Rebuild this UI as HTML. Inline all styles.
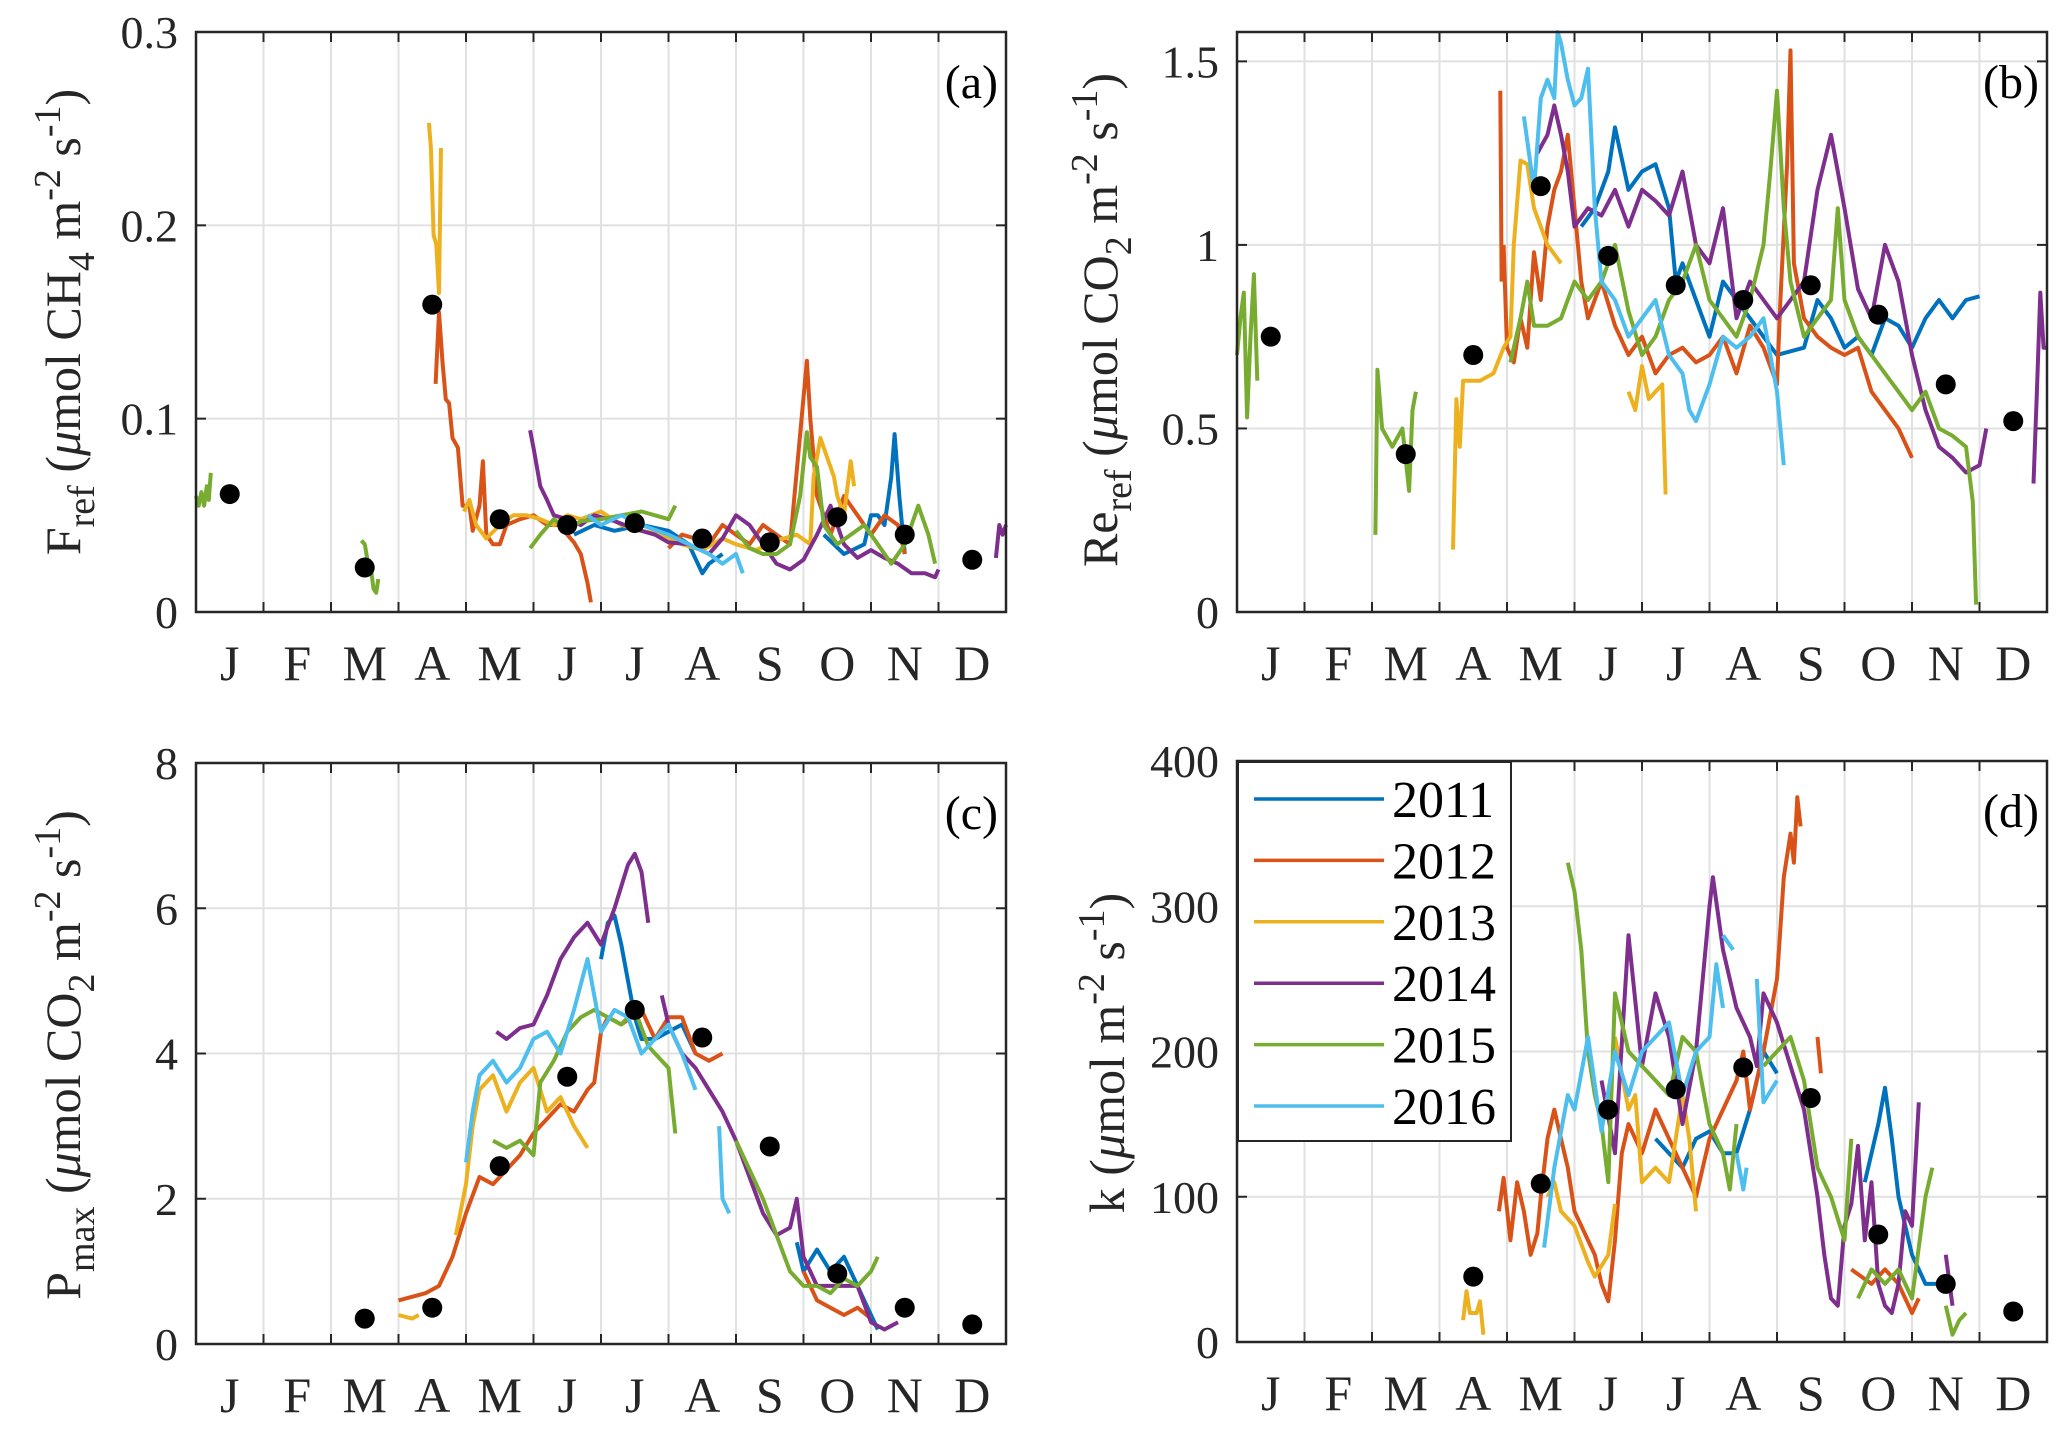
<!DOCTYPE html>
<html><head><meta charset="utf-8"><style>
html,body{margin:0;padding:0;background:#fff;}
svg{display:block;font-family:"Liberation Serif",serif;}
</style></head><body>
<svg id="fig" width="2067" height="1432" viewBox="0 0 2067 1432" xmlns="http://www.w3.org/2000/svg" font-family="Liberation Serif, serif"></svg>
<script>
const monthLabels = ["J","F","M","A","M","J","J","A","S","O","N","D"];
const years = ["2011","2012","2013","2014","2015","2016"];
const colors = ["#0072BD","#D95319","#EDB120","#7E2F8E","#77AC30","#4DBEEE"];

const aDots = [[0,0.061],[2,0.023],[3,0.159],[4,0.048],[5,0.045],[6,0.046],[7,0.038],[8,0.036],[9,0.049],[10,0.040],[11,0.027]];
const bDots = [[0,0.75],[2,0.43],[3,0.70],[4,1.16],[5,0.97],[6,0.89],[7,0.85],[8,0.89],[9,0.81],[10,0.62],[11,0.52]];
const cDots = [[2,0.35],[3,0.5],[4,2.45],[5,3.68],[6,4.6],[7,4.22],[8,2.72],[9,0.97],[10,0.5],[11,0.27]];
const dDots = [[3,45],[4,109],[5,160],[6,174],[7,189],[8,168],[9,74],[10,40],[11,21]];

const aSeries = {
 "2011":[[[5.6,0.04],[5.9,0.045],[6.2,0.042],[6.6,0.045],[7.0,0.042],[7.3,0.035],[7.5,0.02],[7.6,0.025],[7.8,0.03]],
         [[9.3,0.04],[9.6,0.03],[9.9,0.035],[10.0,0.05],[10.1,0.05],[10.2,0.045],[10.3,0.07],[10.35,0.092],[10.42,0.06],[10.5,0.03]]],
 "2012":[[[3.55,0.118],[3.6,0.155],[3.65,0.13],[3.7,0.11],[3.75,0.108],[3.8,0.09],[3.88,0.085],[3.95,0.055],[4.05,0.055],[4.1,0.042],[4.2,0.055],[4.25,0.078],[4.3,0.04],[4.4,0.035],[4.5,0.035],[4.6,0.045],[4.8,0.048],[5.0,0.05],[5.2,0.045],[5.4,0.045],[5.5,0.04],[5.6,0.036],[5.7,0.03],[5.8,0.015],[5.85,0.005]],
         [[7.0,0.033],[7.2,0.04],[7.4,0.038],[7.6,0.035],[7.8,0.045],[8.0,0.04],[8.2,0.035],[8.4,0.045],[8.6,0.04],[8.8,0.035],[9.05,0.13],[9.1,0.1],[9.2,0.06],[9.4,0.04],[9.6,0.06],[9.8,0.05],[10.0,0.04],[10.2,0.05],[10.4,0.045],[10.5,0.03]]],
 "2013":[[[3.45,0.253],[3.48,0.24],[3.52,0.195],[3.56,0.19],[3.6,0.165],[3.63,0.24]],
         [[3.97,0.052],[4.05,0.058],[4.15,0.045],[4.3,0.038],[4.5,0.045],[4.7,0.05],[4.9,0.05],[5.1,0.048],[5.3,0.045],[5.5,0.05],[5.7,0.048],[6.0,0.052],[6.3,0.045],[6.6,0.042],[6.9,0.04],[7.2,0.035],[7.5,0.032],[7.8,0.038],[8.0,0.035],[8.3,0.032],[8.6,0.037],[8.9,0.04],[9.1,0.035],[9.15,0.07],[9.25,0.09],[9.35,0.08],[9.45,0.07],[9.5,0.06],[9.6,0.05],[9.7,0.078],[9.75,0.065]]],
 "2014":[[[4.95,0.094],[5.0,0.085],[5.1,0.065],[5.2,0.058],[5.3,0.05],[5.5,0.048],[5.7,0.045],[5.9,0.05],[6.2,0.047],[6.5,0.043],[6.8,0.04],[7.0,0.036],[7.3,0.035],[7.6,0.03],[7.8,0.038],[8.0,0.05],[8.2,0.045],[8.4,0.035],[8.6,0.025],[8.8,0.022],[9.0,0.027],[9.2,0.04],[9.4,0.055],[9.6,0.035],[9.8,0.028],[10.0,0.032],[10.2,0.028],[10.4,0.025],[10.6,0.02],[10.8,0.02],[10.95,0.018],[11.0,0.022]],
         [[11.85,0.028],[11.9,0.045],[11.95,0.04],[12.0,0.045]]],
 "2015":[[[0,0.06],[0.04,0.055],[0.08,0.062],[0.12,0.055],[0.16,0.065],[0.19,0.058],[0.22,0.072]],
         [[2.45,0.037],[2.5,0.035],[2.55,0.025],[2.6,0.02],[2.63,0.012],[2.67,0.01],[2.7,0.017]],
         [[4.95,0.033],[5.1,0.04],[5.3,0.048],[5.5,0.042],[5.7,0.047],[6.0,0.048],[6.3,0.05],[6.6,0.052],[6.8,0.05],[7.0,0.048],[7.1,0.055]],
         [[8.0,0.042],[8.2,0.033],[8.4,0.03],[8.6,0.03],[8.8,0.035],[8.95,0.06],[9.05,0.093],[9.1,0.08],[9.2,0.075],[9.3,0.045],[9.5,0.035],[9.7,0.04],[9.9,0.045],[10.1,0.035],[10.3,0.025],[10.5,0.035],[10.7,0.055],[10.85,0.04],[10.95,0.025]]],
 "2016":[[[5.8,0.05],[6.0,0.045],[6.3,0.05],[6.6,0.045],[7.0,0.04],[7.3,0.035],[7.6,0.03],[7.8,0.025],[8.0,0.03],[8.1,0.02]]]
};
const bSeries = {
 "2011":[[[5.1,1.05],[5.3,1.1],[5.5,1.2],[5.6,1.32],[5.8,1.15],[6.0,1.2],[6.2,1.22],[6.4,1.1],[6.5,0.9],[6.6,0.95],[6.8,0.85],[7.0,0.75],[7.2,0.9],[7.4,0.85],[7.6,0.8],[7.8,0.75],[8.0,0.7],[8.4,0.72],[8.6,0.85],[8.8,0.8],[9.0,0.72],[9.2,0.75],[9.4,0.7],[9.6,0.8],[9.8,0.78],[10.0,0.72],[10.2,0.8],[10.4,0.85],[10.6,0.8],[10.8,0.85],[11.0,0.86]]],
 "2012":[[[3.9,1.42],[3.92,0.9]],[[3.95,1.0],[4.0,0.72],[4.1,0.68],[4.2,0.8],[4.3,0.72],[4.4,0.98],[4.5,0.85],[4.6,1.05],[4.7,1.15],[4.8,1.2],[4.9,1.3],[5.0,1.1],[5.1,0.9],[5.2,0.8],[5.4,0.9],[5.6,0.78],[5.8,0.7],[6.0,0.75],[6.2,0.65],[6.4,0.7],[6.6,0.72],[6.8,0.68],[7.0,0.7],[7.2,0.75],[7.4,0.65],[7.6,0.78],[7.8,0.72],[8.0,0.62],[8.05,0.85],[8.15,1.22],[8.2,1.53],[8.25,0.95],[8.4,0.8],[8.6,0.75],[8.8,0.72],[9.0,0.7],[9.2,0.72],[9.4,0.6],[9.6,0.55],[9.8,0.5],[10.0,0.42]]],
 "2013":[[[3.2,0.17],[3.25,0.58],[3.3,0.45],[3.35,0.63],[3.6,0.63],[3.8,0.65],[3.95,0.72],[4.05,0.75],[4.1,1.0],[4.2,1.23],[4.3,1.22],[4.4,1.1],[4.6,1.0],[4.8,0.95]],
         [[5.8,0.6],[5.9,0.55],[6.0,0.67],[6.1,0.58],[6.2,0.6],[6.3,0.62],[6.35,0.32]]],
 "2014":[[[4.45,1.25],[4.6,1.3],[4.7,1.38],[4.8,1.3],[4.9,1.2],[5.0,1.05],[5.2,1.1],[5.4,1.08],[5.6,1.15],[5.8,1.05],[6.0,1.15],[6.2,1.12],[6.4,1.08],[6.6,1.2],[6.8,1.0],[7.0,0.95],[7.2,1.1],[7.4,0.8],[7.6,0.9],[7.8,0.85],[8.0,0.8],[8.2,0.85],[8.4,0.9],[8.6,1.15],[8.8,1.3],[8.9,1.2],[9.0,1.1],[9.2,0.88],[9.4,0.8],[9.6,1.0],[9.8,0.9],[10.0,0.7],[10.2,0.55],[10.4,0.45],[10.6,0.42],[10.8,0.38],[11.0,0.4],[11.1,0.5]],
         [[11.8,0.35],[11.85,0.6],[11.9,0.87],[11.95,0.72],[12.0,0.72]]],
 "2015":[[[0,0.7],[0.05,0.8],[0.1,0.87],[0.15,0.53],[0.2,0.75],[0.25,0.92],[0.3,0.63]],
         [[2.05,0.21],[2.08,0.66],[2.15,0.5],[2.3,0.45],[2.45,0.5],[2.55,0.33],[2.6,0.55],[2.65,0.6]],
         [[4.05,0.68],[4.2,0.8],[4.3,0.9],[4.4,0.78],[4.6,0.78],[4.8,0.8],[5.0,0.9],[5.2,0.85],[5.4,0.9],[5.6,1.0],[5.8,0.82],[6.0,0.7],[6.2,0.75],[6.4,0.85],[6.6,0.9],[6.8,1.0],[7.0,0.85],[7.2,0.8],[7.4,0.75],[7.6,0.85],[7.8,1.0],[7.9,1.2],[8.0,1.42],[8.1,1.1],[8.2,0.9],[8.4,0.75],[8.6,0.8],[8.8,0.85],[8.9,1.1],[9.0,0.85],[9.2,0.75],[9.4,0.7],[9.6,0.65],[9.8,0.6],[10.0,0.55],[10.2,0.6],[10.4,0.5],[10.6,0.48],[10.8,0.45],[10.9,0.3],[10.95,0.02]]],
 "2016":[[[4.25,1.35],[4.4,1.15],[4.5,1.4],[4.6,1.45],[4.7,1.4],[4.75,1.58],[4.8,1.55],[4.9,1.45],[5.0,1.38],[5.1,1.4],[5.2,1.48],[5.3,1.1],[5.4,0.9],[5.6,0.85],[5.8,0.75],[6.0,0.8],[6.2,0.85],[6.4,0.7],[6.6,0.65],[6.7,0.55],[6.8,0.52],[7.0,0.62],[7.2,0.75],[7.4,0.72],[7.6,0.75],[7.8,0.8],[8.0,0.6],[8.1,0.4]]]
};
const cSeries = {
 "2011":[[[6.0,5.3],[6.1,5.8],[6.2,5.9],[6.3,5.5],[6.4,5.0],[6.5,4.5],[6.6,4.2],[6.8,4.2],[7.0,4.3],[7.2,4.4],[7.4,4.0]],
         [[8.9,1.4],[9.0,1.0],[9.2,1.3],[9.4,1.0],[9.6,1.2],[9.8,0.8],[10.0,0.4],[10.1,0.2]]],
 "2012":[[[3.0,0.6],[3.2,0.65],[3.4,0.7],[3.6,0.8],[3.8,1.2],[4.0,1.8],[4.2,2.3],[4.4,2.2],[4.6,2.4],[4.8,2.6],[5.0,2.9],[5.2,3.1],[5.4,3.3],[5.6,3.2],[5.8,3.5],[5.9,3.6],[6.0,4.3],[6.1,4.5],[6.3,4.4],[6.6,4.6],[6.8,4.2],[7.0,4.5],[7.2,4.5],[7.4,4.0],[7.6,3.9],[7.8,4.0]],
         [[9.0,1.0],[9.2,0.6],[9.4,0.5],[9.6,0.4],[9.8,0.5],[10.0,0.35]]],
 "2013":[[[3.0,0.4],[3.2,0.35],[3.3,0.4]],
         [[3.85,1.5],[4.0,2.2],[4.1,3.0],[4.2,3.5],[4.4,3.7],[4.6,3.2],[4.8,3.6],[5.0,3.8],[5.2,3.2],[5.4,3.4],[5.6,3.0],[5.8,2.7]]],
 "2014":[[[4.45,4.3],[4.6,4.2],[4.8,4.35],[5.0,4.4],[5.2,4.8],[5.4,5.3],[5.6,5.6],[5.8,5.8],[6.0,5.5],[6.2,6.0],[6.4,6.6],[6.5,6.75],[6.6,6.5],[6.7,5.8]],
         [[6.9,4.8],[7.0,4.4],[7.2,4.0],[7.4,3.8],[7.6,3.5],[7.8,3.2],[8.0,2.8],[8.2,2.3],[8.4,1.8],[8.6,1.5],[8.8,1.6],[8.9,2.0],[9.0,1.2],[9.2,0.8],[9.4,0.8],[9.6,0.8],[9.8,0.8],[10.0,0.3],[10.2,0.2],[10.4,0.3]]],
 "2015":[[[4.4,2.8],[4.6,2.7],[4.8,2.8],[5.0,2.6],[5.1,3.6],[5.3,3.9],[5.5,4.3],[5.7,4.5],[5.9,4.6],[6.1,4.5],[6.3,4.4],[6.5,4.6],[6.7,4.1],[6.8,4.0],[7.0,3.8],[7.1,2.9]],
         [[8.0,2.8],[8.2,2.4],[8.4,2.0],[8.6,1.5],[8.8,1.0],[9.0,0.8],[9.2,0.8],[9.4,0.7],[9.6,0.9],[9.8,0.8],[10.0,1.0],[10.1,1.2]]],
 "2016":[[[4.0,2.5],[4.1,3.2],[4.2,3.7],[4.4,3.9],[4.6,3.6],[4.8,3.8],[5.0,4.2],[5.2,4.3],[5.4,4.0],[5.6,4.6],[5.8,5.3],[6.0,4.3],[6.2,4.6],[6.4,4.5],[6.6,4.0],[6.8,4.2],[7.0,4.4],[7.2,4.0],[7.4,3.5]],
         [[7.75,3.0],[7.8,2.0],[7.9,1.8]]]
};
const dSeries = {
 "2011":[[[6.2,140],[6.4,130],[6.6,120],[6.8,140],[7.0,145],[7.2,130],[7.4,130],[7.6,160],[7.8,200],[8.0,185]],
         [[9.3,110],[9.5,150],[9.6,175],[9.7,140],[9.8,100],[10.0,60],[10.2,40],[10.4,40]]],
 "2012":[[[3.88,90],[3.95,113],[4.05,70],[4.15,110],[4.25,90],[4.35,60],[4.45,75],[4.5,100],[4.6,140],[4.7,160],[4.8,140],[4.9,120],[5.0,90],[5.1,80],[5.2,70],[5.3,60],[5.4,40],[5.5,28],[5.6,70],[5.7,130],[5.8,150],[6.0,130],[6.2,160],[6.4,140],[6.6,120],[6.8,100],[7.0,140],[7.2,160],[7.4,180],[7.5,200],[7.6,160],[7.8,200],[8.0,250],[8.1,320],[8.2,350],[8.25,330],[8.3,375],[8.35,355]],
         [[8.6,210],[8.65,185]],
         [[9.1,50],[9.4,40],[9.6,50],[9.8,40],[10.0,20],[10.1,30]]],
 "2013":[[[3.35,15],[3.4,35],[3.45,20],[3.55,20],[3.6,28],[3.65,5]],
         [[4.6,100],[4.7,110],[4.8,90],[5.0,80],[5.2,55],[5.3,45],[5.5,60],[5.6,95]],
         [[5.6,210],[5.8,160],[5.9,170],[6.0,110],[6.2,120],[6.4,110],[6.6,170],[6.7,140],[6.8,90]]],
 "2014":[[[5.4,180],[5.6,130],[5.8,280],[6.0,190],[6.2,240],[6.4,210],[6.6,150],[6.8,200],[7.0,300],[7.05,320],[7.2,270],[7.4,230],[7.6,210],[7.7,190],[7.8,240],[8.0,220],[8.2,190],[8.4,160],[8.6,100],[8.7,60],[8.8,30],[8.9,25],[9.0,80],[9.1,95],[9.2,135],[9.3,70],[9.4,110],[9.5,40],[9.6,25],[9.7,20],[9.8,40],[9.9,90],[10.0,80],[10.1,165]],
         [[10.5,60],[10.6,25]]],
 "2015":[[[4.9,330],[5.0,310],[5.1,270],[5.2,200],[5.3,170],[5.4,150],[5.5,110],[5.6,240],[5.8,200],[6.0,190],[6.2,180],[6.4,170],[6.6,210],[6.8,200],[7.0,150],[7.2,130],[7.3,105],[7.4,150]],
         [[7.8,190],[8.0,200],[8.2,210],[8.4,180],[8.6,120],[8.8,100],[9.0,70],[9.1,140]],
         [[9.2,30],[9.4,50],[9.6,40],[9.8,50],[10.0,30],[10.2,100],[10.3,120]],
         [[10.5,25],[10.6,5],[10.7,15],[10.8,20]]],
 "2016":[[[4.55,65],[4.7,120],[4.9,170],[5.0,160],[5.2,210],[5.4,145],[5.6,200],[5.8,170],[6.0,200],[6.2,210],[6.4,220],[6.6,170],[6.8,200],[7.0,210],[7.1,260],[7.2,230]],
         [[7.2,280],[7.35,270]],[[7.4,130],[7.5,105],[7.55,120]],[[7.7,250],[7.8,165],[8.0,180]]]
};

const aTicks = [0,0.1,0.2,0.3], aTickLabels = ["0","0.1","0.2","0.3"];
const bTicks = [0,0.5,1,1.5], bTickLabels = ["0","0.5","1","1.5"];
const cTicks = [0,2,4,6,8], cTickLabels = ["0","2","4","6","8"];
const dTicks = [0,100,200,300,400], dTickLabels = ["0","100","200","300","400"];

const NS = "http://www.w3.org/2000/svg";
const svg = document.getElementById("fig");
function mk(tag, attrs, parent){
  const e = document.createElementNS(NS, tag);
  for (const k in attrs) e.setAttribute(k, attrs[k]);
  (parent||svg).appendChild(e);
  return e;
}

const panels = [
 {id:"a", x0:196, x1:1006, y0:32, y1:612, ymax:0.3, ticks:aTicks, tl:aTickLabels, dots:aDots, series:aSeries, lx:63, ly:322,
  label:[["F",0],["ref",1],[" (",0],["μ",2],["mol CH",0],["4",1],[" m",0],["-2",-1],[" s",0],["-1",-1],[")",0]]},
 {id:"b", x0:1237, x1:2047, y0:32, y1:612, ymax:1.58, ticks:bTicks, tl:bTickLabels, dots:bDots, series:bSeries, lx:1100, ly:320,
  label:[["Re",0],["ref",1],[" (",0],["μ",2],["mol CO",0],["2",1],[" m",0],["-2",-1],[" s",0],["-1",-1],[")",0]]},
 {id:"c", x0:196, x1:1006, y0:763, y1:1344, ymax:8, ticks:cTicks, tl:cTickLabels, dots:cDots, series:cSeries, lx:63, ly:1055,
  label:[["P",0],["max",1],[" (",0],["μ",2],["mol CO",0],["2",1],[" m",0],["-2",-1],[" s",0],["-1",-1],[")",0]]},
 {id:"d", x0:1237, x1:2047, y0:761, y1:1342, ymax:400, ticks:dTicks, tl:dTickLabels, dots:dDots, series:dSeries, lx:1107, ly:1053,
  label:[["k (",0],["μ",2],["mol m",0],["-2",-1],[" s",0],["-1",-1],[")",0]]}
];

panels.forEach(p => {
  const g = mk("g", {});
  
  
  const W = p.x1 - p.x0, H = p.y1 - p.y0;
  const xs = m => p.x0 + m / 12 * W;
  const ys = v => p.y1 - v / p.ymax * H;
  for (let m = 1; m < 12; m++) {
    const l = mk("line", {x1:xs(m), x2:xs(m), y1:p.y0, y2:p.y1, stroke:"#e1e1e1", "stroke-width":2}, g);
    
    
  }
  p.ticks.forEach((t, i) => {
    if (t > 0 && t < p.ymax) {
      const l = mk("line", {x1:p.x0, x2:p.x1, y1:ys(t), y2:ys(t), stroke:"#e1e1e1", "stroke-width":2}, g);
      
      
    }
    const tx = mk("text", {x:p.x0 - 18, y:ys(t) + 16, "text-anchor":"end", "font-size":46, fill:"#262626"}, g);
    
    
    tx.textContent = p.tl[i];
    mk("line", {x1:p.x0, x2:p.x0 + 10, y1:ys(t), y2:ys(t), stroke:"#262626", "stroke-width":2}, g);
    mk("line", {x1:p.x1, x2:p.x1 - 10, y1:ys(t), y2:ys(t), stroke:"#262626", "stroke-width":2}, g);
  });
  for (let m = 1; m < 12; m++) {
    mk("line", {x1:xs(m), x2:xs(m), y1:p.y1, y2:p.y1 - 10, stroke:"#262626", "stroke-width":2}, g);
    mk("line", {x1:xs(m), x2:xs(m), y1:p.y0, y2:p.y0 + 10, stroke:"#262626", "stroke-width":2}, g);
  }
  monthLabels.forEach((ml, i) => {
    const tx = mk("text", {x:xs(i + 0.5), y:p.y1 + 68, "text-anchor":"middle", "font-size":50, fill:"#262626"}, g);
    
    
    tx.textContent = ml;
  });
  years.forEach((yr, yi) => {
    (p.series[yr] || []).forEach(seg => {
      const pl = mk("polyline", {points: seg.map(q => xs(q[0]).toFixed(1) + "," + ys(q[1]).toFixed(1)).join(" "),
        fill:"none", stroke:colors[yi], "stroke-width":4, "stroke-linejoin":"round"}, g);
      
      
    });
  });
  p.dots.forEach(d => {
    const c = mk("circle", {cx:xs(d[0] + 0.5), cy:ys(d[1]), r:10, fill:"#000"}, g);
    
    
  });
  const box = mk("rect", {x:p.x0, y:p.y0, width:W, height:H, fill:"none", stroke:"#262626", "stroke-width":2.5}, g);
  
  
  const pt = mk("text", {x:p.x1 - 8, y:p.y0 + 66, "text-anchor":"end", "font-size":48, fill:"#000"}, g);
  
  
  pt.textContent = "(" + p.id + ")";
  const yl = mk("text", {x:0, y:0, "text-anchor":"middle", "font-size":50, fill:"#262626",
    transform:"translate(" + (p.lx + 17) + "," + p.ly + ") rotate(-90)"}, g);
  
  
  let shift = 0;
  p.label.forEach(part => {
    const ts = mk("tspan", {}, yl);
    let dy = 0, fs = 50;
    if (part[1] === 1) { dy = 14; fs = 38; }
    if (part[1] === -1) { dy = -20; fs = 38; }
    if (part[1] === 2) { ts.setAttribute("font-style", "italic"); }
    ts.setAttribute("dy", dy - shift);
    ts.setAttribute("font-size", fs);
    shift = dy;
    ts.textContent = part[0];
  });
});

const lg = mk("g", {});


mk("rect", {x:1238, y:762, width:273, height:379, fill:"#fff", stroke:"#262626", "stroke-width":2}, lg);
years.forEach((yr, i) => {
  const y = 799 + i * 61.4;
  const ln = mk("line", {x1:1254, x2:1384, y1:y, y2:y, stroke:colors[i], "stroke-width":3.5}, lg);
  
  
  const t = mk("text", {x:1392, y:y + 18, "font-size":52, fill:"#000"}, lg);
  
  
  t.textContent = yr;
});
</script>
</body></html>
